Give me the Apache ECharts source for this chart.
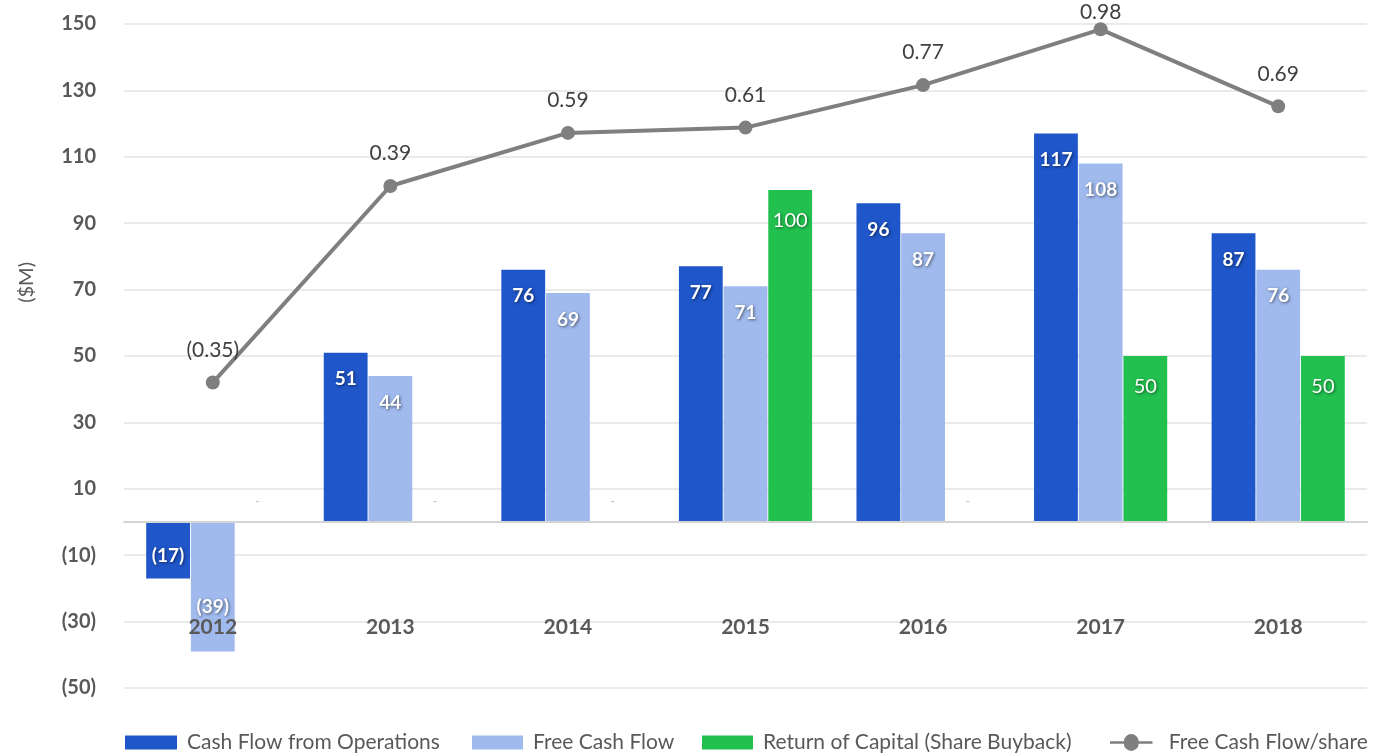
<!DOCTYPE html>
<html>
<head>
<meta charset="utf-8">
<script src="https://cdn.jsdelivr.net/npm/echarts@6/dist/echarts.min.js"></script>
<style>
html,body{margin:0;padding:0;background:#fff;}
#chart{width:1388px;height:753px;}
</style>
</head>
<body>
<div id="chart"></div>
<script>
const categories = ['2012', '2013', '2014', '2015', '2016', '2017', '2018'];
const cashFlowOps = [-17, 51, 76, 77, 96, 117, 87];
const freeCashFlow = [-39, 44, 69, 71, 87, 108, 76];
const returnOfCapital = [0, 0, 0, 100, 0, 50, 50];
const fcfPerShare = [-0.35, 0.39, 0.59, 0.61, 0.77, 0.98, 0.69];
const yTicks = [-50, -30, -10, 10, 30, 50, 70, 90, 110, 130, 150];
const seriesNames = ['Cash Flow from Operations', 'Free Cash Flow', 'Return of Capital (Share Buyback)', 'Free Cash Flow/share'];

const FONT = 'Lato, "Open Sans", sans-serif';
const TXT = '#595959';

function paren(v, digits) {
  const s = Math.abs(v).toFixed(digits);
  return v < 0 ? '(' + s + ')' : s;
}

const shadow = {
  textShadowColor: 'rgba(0,0,0,0.55)',
  textShadowBlur: 3,
  textShadowOffsetX: 1,
  textShadowOffsetY: 1
};

function barData(values, negDistance) {
  return values.map(v => {
    if (v === 0) {
      return { value: v, label: { show: true, position: 'top', distance: 14, formatter: '-', color: '#c8c8c8', fontSize: 14, fontWeight: 'normal', textShadowBlur: 0, textShadowOffsetX: 0, textShadowOffsetY: 0 } };
    }
    if (v < 0) {
      return { value: v, label: { position: 'insideBottom', distance: negDistance } };
    }
    return { value: v };
  });
}

function barSeries(name, values, color, negDistance, bold, fontSize, dist) {
  return {
    name: name,
    type: 'bar',
    data: barData(values, negDistance),
    itemStyle: { color: color },
    barGap: '2%',
    barCategoryGap: '25%',
    label: Object.assign({
      show: true,
      position: 'insideTop',
      distance: dist,
      color: '#ffffff',
      fontFamily: FONT,
      fontSize: fontSize,
      fontWeight: bold ? 'bold' : 'normal',
      formatter: p => paren(p.value, 0)
    }, shadow)
  };
}

const maxIdx = fcfPerShare.indexOf(Math.max(...fcfPerShare));
const lineData = fcfPerShare.map((v, i) => i === maxIdx ? { value: v, label: { distance: 0 } } : { value: v });

const legendLefts = [125, 472, 702, 1110];
const legendIcons = ['rect', 'rect', 'rect', 'path://M0,7 L18,7 A9,9 0 1,1 37,7 L55,7 L55,10 L37,10 A9,9 0 1,1 18,10 L0,10 Z'];
const legendW = [52, 51, 51, 55];
const legends = seriesNames.map((n, i) => ({
  left: legendLefts[i],
  top: 732,
  padding: 0,
  itemWidth: legendW[i],
  itemHeight: i === 3 ? 17 : 14,
  itemGap: 0,
  icon: legendIcons[i],
  textStyle: { fontFamily: FONT, fontSize: 21, color: TXT, padding: [0, 0, 0, 5] },
  data: [{ name: n }]
}));

const chart = echarts.init(document.getElementById('chart'), null, { renderer: 'canvas' });
chart.setOption({
  animation: false,
  textStyle: { fontFamily: FONT },
  grid: { left: 124, right: 21, top: 24, bottom: 65, containLabel: false, outerBoundsMode: 'none' },
  legend: legends,
  graphic: [{
    type: 'text',
    left: 17,
    top: 262,
    rotation: Math.PI / 2,
    style: { text: '($M)', font: '20px ' + FONT, fill: TXT }
  }],
  xAxis: {
    type: 'category',
    data: categories,
    z: 10,
    axisLine: { onZero: true, lineStyle: { color: '#d4d4d4', width: 2 } },
    axisTick: { show: false },
    axisLabel: { margin: -71, color: TXT, fontFamily: FONT, fontSize: 21, fontWeight: 'bold' }
  },
  yAxis: [{
    type: 'value',
    min: yTicks[0],
    max: yTicks[yTicks.length - 1],
    interval: 20,
    axisLine: { show: false },
    axisTick: { show: false },
    splitLine: { lineStyle: { color: '#e3e3e3', width: 1.5 } },
    axisLabel: { margin: 28, color: TXT, fontFamily: FONT, fontSize: 20, fontWeight: 'bold', formatter: v => paren(v, 0) }
  }, {
    type: 'value',
    min: -1.5,
    max: 1.0,
    show: false,
    splitLine: { show: false }
  }],
  series: [
    barSeries(seriesNames[0], cashFlowOps, '#1f56c9', 13, true, 19, 17),
    barSeries(seriesNames[1], freeCashFlow, '#a0baee', 35, true, 19, 17),
    barSeries(seriesNames[2], returnOfCapital, '#22c14f', 0, false, 20, 21),
    {
      name: seriesNames[3],
      type: 'line',
      yAxisIndex: 1,
      data: lineData,
      z: 5,
      symbol: 'circle',
      symbolSize: 14,
      lineStyle: { color: '#7f7f7f', width: 4 },
      itemStyle: { color: '#7f7f7f' },
      label: {
        show: true,
        position: 'top',
        distance: 15,
        color: '#404040',
        fontFamily: FONT,
        fontSize: 21,
        formatter: p => paren(p.value, 2)
      }
    }
  ]
});
</script>
</body>
</html>
